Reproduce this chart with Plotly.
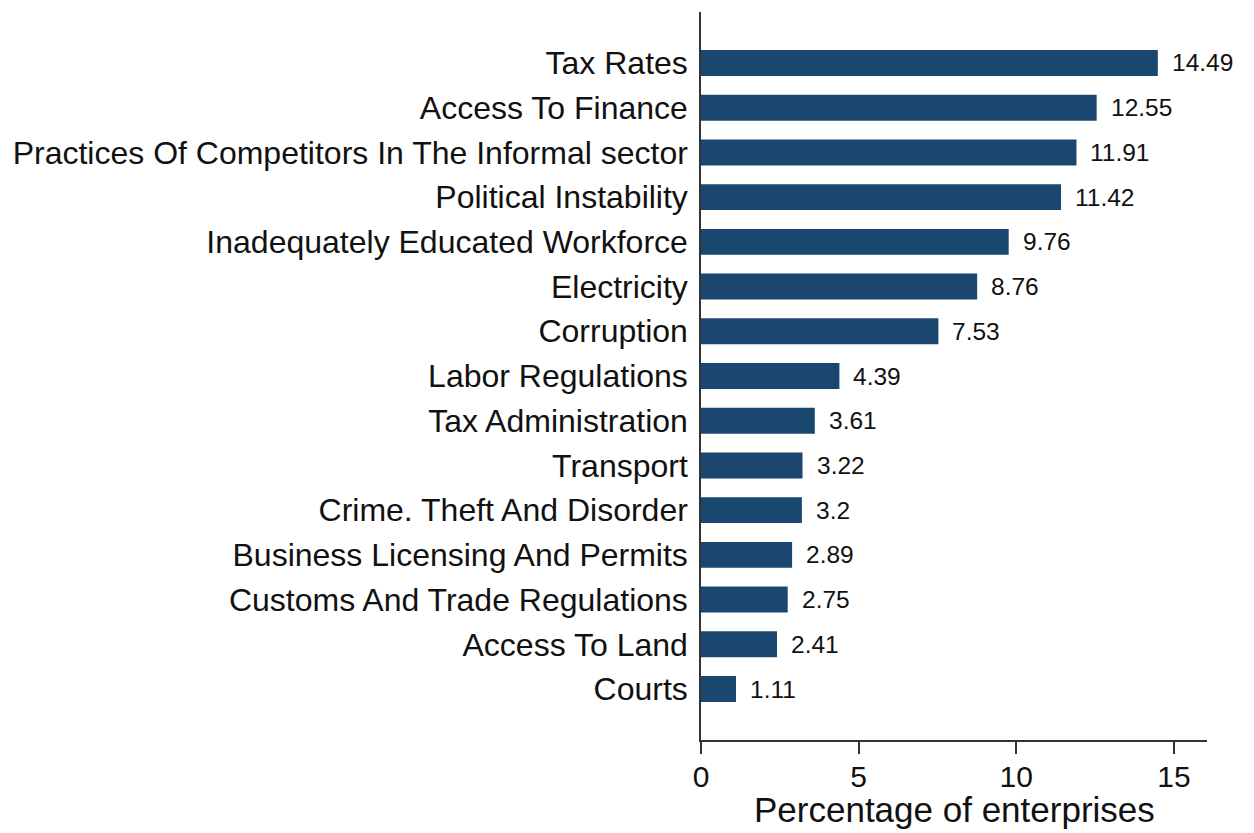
import plotly.graph_objects as go

categories = [
    "Tax Rates",
    "Access To Finance",
    "Practices Of Competitors In The Informal sector",
    "Political Instability",
    "Inadequately Educated Workforce",
    "Electricity",
    "Corruption",
    "Labor Regulations",
    "Tax Administration",
    "Transport",
    "Crime. Theft And Disorder",
    "Business Licensing And Permits",
    "Customs And Trade Regulations",
    "Access To Land",
    "Courts",
]
values = [14.49, 12.55, 11.91, 11.42, 9.76, 8.76, 7.53, 4.39, 3.61, 3.22, 3.2, 2.89, 2.75, 2.41, 1.11]
value_labels = ["14.49", "12.55", "11.91", "11.42", "9.76", "8.76", "7.53", "4.39",
                "3.61", "3.22", "3.2", "2.89", "2.75", "2.41", "1.11"]

navy = "rgb(26,71,111)"
font = "Liberation Sans, Arial, sans-serif"

fig = go.Figure(go.Bar(
    x=values,
    y=categories,
    orientation="h",
    marker=dict(color=navy, line=dict(width=0)),
    width=0.58,
    hoverinfo="x+y",
))

# value labels to the right of each bar
for v, lab, cat in zip(values, value_labels, categories):
    fig.add_annotation(x=v, y=cat, text=lab, showarrow=False,
                       xanchor="left", xshift=12,
                       font=dict(size=24.5, color="#111111", family=font))

# x axis title as an annotation so it can sit close to the tick labels
fig.add_annotation(x=0.5, y=0, xref="paper", yref="paper", text="Percentage of enterprises",
                   showarrow=False, xanchor="center", yanchor="middle", yshift=-69,
                   font=dict(size=35, color="#111111", family=font))

n = len(categories)
fig.update_layout(
    width=1246, height=825,
    margin=dict(l=693, r=47, t=4, b=93),
    paper_bgcolor="white", plot_bgcolor="white",
    showlegend=False,
    font=dict(family=font, color="#111111"),
    xaxis=dict(
        range=[0, 16.05],
        tickvals=[0, 5, 10, 15],
        ticks="outside", ticklen=12, tickwidth=1.5, tickcolor="#333333",
        showline=True, linecolor="#333333", linewidth=1.5,
        showgrid=False, zeroline=False,
        tickfont=dict(size=30),
        ticklabelstandoff=-3,
        automargin=False,
    ),
    yaxis=dict(
        categoryorder="array", categoryarray=categories,
        range=[n - 1 + 1.14, -1.14],
        showline=True, linecolor="#333333", linewidth=1.5,
        ticks="", showgrid=False, zeroline=False,
        tickfont=dict(size=32),
        ticklabelstandoff=5,
        automargin=False,
    ),
)

fig.write_html("out.html")
